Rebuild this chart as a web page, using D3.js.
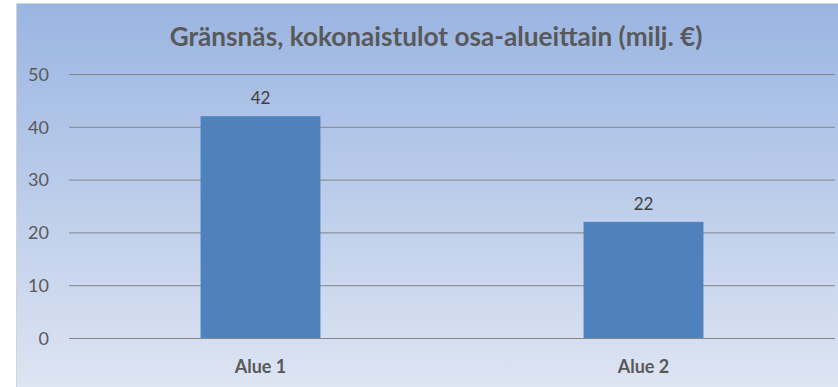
<!DOCTYPE html>
<html>
<head>
<meta charset="utf-8">
<script src="https://cdn.jsdelivr.net/npm/d3@7/dist/d3.min.js"></script>
<style>
  html, body { margin: 0; padding: 0; background: #ffffff; }
  svg { display: block; }
  text { font-family: Lato, "Open Sans", "DejaVu Sans", sans-serif; }
</style>
</head>
<body>
<svg id="chart" width="838" height="387"></svg>
<script>
// Chart data
const title = "Gränsnäs, kokonaistulot osa-alueittain (milj. €)";
const categories = ["Alue 1", "Alue 2"];
const values = [42, 22];
const yTicks = [0, 10, 20, 30, 40, 50];

const W = 838, H = 387;
const svg = d3.select("#chart");

// Background panel with a vertical blue gradient
const defs = svg.append("defs");
const grad = defs.append("linearGradient")
  .attr("id", "bg").attr("x1", 0).attr("y1", 0).attr("x2", 0).attr("y2", 1);
grad.append("stop").attr("offset", "0%").attr("stop-color", "#9ab5e2");
grad.append("stop").attr("offset", "100%").attr("stop-color", "#dee5f3");

svg.append("rect")
  .attr("x", 16.5).attr("y", 3.5)
  .attr("width", W).attr("height", H)
  .attr("fill", "url(#bg)")
  .attr("stroke", "#d4d4d4").attr("stroke-width", 1);

// Plot area
const plot = { left: 69, right: 835, top: 74, bottom: 338 };

const x = d3.scaleBand()
  .domain(categories)
  .range([plot.left, plot.right])
  .paddingInner(0.687)
  .paddingOuter(0.3435);

const y = d3.scaleLinear()
  .domain([0, 50])
  .range([plot.bottom, plot.top]);

// Horizontal gridlines
const yAxis = d3.axisLeft(y)
  .tickValues(yTicks)
  .tickSize(-(plot.right - plot.left))
  .tickPadding(20)
  .tickFormat(d3.format("d"));

const gy = svg.append("g")
  .attr("transform", `translate(${plot.left},0)`)
  .call(yAxis);
gy.select(".domain").remove();
gy.selectAll(".tick line")
  .attr("stroke", "#868686")
  .attr("stroke-width", 1);
gy.selectAll(".tick text")
  .attr("fill", "#595959")
  .attr("font-size", 18)
  .attr("x", -20)
  .attr("dy", "0.35em");

// Bars
svg.append("g").selectAll("rect")
  .data(values)
  .join("rect")
  .attr("x", (d, i) => x(categories[i]))
  .attr("y", d => y(d))
  .attr("width", x.bandwidth())
  .attr("height", d => y(0) - y(d))
  .attr("fill", "#4f81bd");

// Baseline
svg.append("line")
  .attr("x1", plot.left).attr("x2", plot.right)
  .attr("y1", y(0) + 0.5).attr("y2", y(0) + 0.5)
  .attr("stroke", "#868686").attr("stroke-width", 1);

// Value labels
svg.append("g").selectAll("text")
  .data(values)
  .join("text")
  .attr("x", (d, i) => x(categories[i]) + x.bandwidth() / 2)
  .attr("y", d => y(d) - 18)
  .attr("dy", "0.35em")
  .attr("text-anchor", "middle")
  .attr("fill", "#404040")
  .attr("font-size", 17)
  .text(d => d3.format("d")(d));

// Category labels
const xAxis = d3.axisBottom(x).tickSize(0).tickPadding(0);
const gx = svg.append("g")
  .attr("transform", `translate(0,${plot.bottom})`)
  .call(xAxis);
gx.select(".domain").remove();
gx.selectAll(".tick text")
  .attr("y", 29)
  .attr("dy", "0.35em")
  .attr("fill", "#595959")
  .attr("font-size", 18)
  .attr("font-weight", "bold");

// Title
const t = svg.append("text")
  .attr("x", 436)
  .attr("y", 37)
  .attr("dy", "0.35em")
  .attr("text-anchor", "middle")
  .attr("fill", "#595959")
  .attr("font-size", 22)
  .attr("font-weight", "bold")
  .text(title);
const targetWidth = 533;
const tw = t.node().getComputedTextLength();
if (tw > 0) t.attr("font-size", 22 * targetWidth / tw);
</script>
</body>
</html>
